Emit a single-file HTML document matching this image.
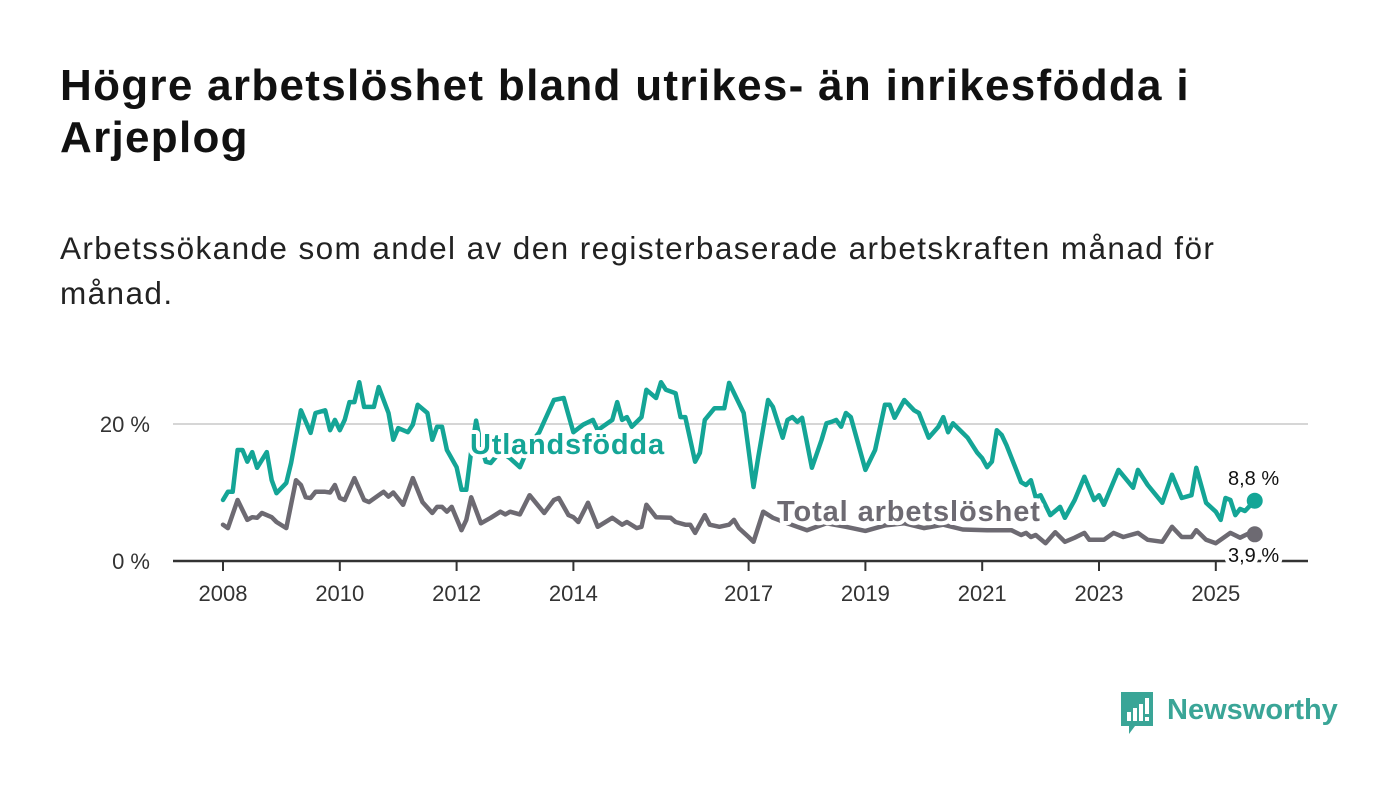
<!DOCTYPE html>
<html lang="sv">
<head>
<meta charset="utf-8">
<style>
  html,body{margin:0;padding:0;background:#fff;}
  body{width:1400px;height:794px;overflow:hidden;position:relative;font-family:"Liberation Sans",sans-serif;color:#111;}
  h1{position:absolute;left:60px;top:60px;margin:0;font-size:44px;line-height:52px;font-weight:bold;width:1190px;color:#111;letter-spacing:1.3px;}
  .sub{position:absolute;left:60px;top:226px;margin:0;font-size:31.5px;line-height:45px;width:1190px;color:#222;letter-spacing:1.4px;}
  svg{position:absolute;left:0;top:0;}
  .logo{position:absolute;left:1119px;top:690px;width:240px;height:46px;}
</style>
</head>
<body>
<h1>Högre arbetslöshet bland utrikes- än inrikesfödda i Arjeplog</h1>
<p class="sub">Arbetssökande som andel av den registerbaserade arbetskraften månad för månad.</p>
<svg id="chart" width="1400" height="794"></svg>
<div class="logo">
  <svg width="240" height="46" style="position:absolute;left:0;top:0">
    <path d="M2 2 H34 V36 H16 L10 44 L10 36 H2 Z" fill="#3aa597"/>
    <rect x="8" y="22" width="4" height="9" fill="#fff"/>
    <rect x="14" y="18" width="4" height="13" fill="#fff"/>
    <rect x="20" y="14" width="4" height="17" fill="#fff"/>
    <rect x="26" y="8" width="4" height="16" fill="#fff"/>
    <rect x="26" y="27" width="4" height="4" fill="#fff"/>
    <text x="48" y="29" font-family="Liberation Sans, sans-serif" font-size="29" font-weight="bold" fill="#3aa597">Newsworthy</text>
  </svg>
</div>
<script>
// months since Jan 2008
const foreignMonths = [0,1,2,3,4,5,6,7,9,10,11,13,14,16,18,19,21,22,23,24,25,26,27,28,29,31,32,34,35,36,38,39,40,42,43,44,45,46,48,49,50,51,52,53,54,55,57,59,61,63,65,68,70,71,72,74,76,77,80,81,82,83,84,86,87,89,90,91,93,94,95,97,98,99,101,103,104,107,109,110,112,113,115,116,117,118,119,121,123,124,125,126,127,128,129,132,134,136,137,138,140,142,143,145,147,148,149,150,152,153,155,156,157,158,159,160,161,163,164,165,166,167,168,170,172,173,175,177,179,180,181,184,187,188,190,193,195,197,199,200,202,204,205,206,207,208,209,210,212];
const foreignValues = [8.9,10.1,10.1,16.2,16.2,14.5,15.9,13.6,15.9,11.8,9.9,11.4,14.3,22,18.7,21.6,22,19.1,20.6,19.1,20.6,23.2,23.2,26.1,22.5,22.5,25.4,21.6,17.7,19.4,18.8,19.9,22.8,21.6,17.7,19.6,19.6,16.2,13.7,10.4,10.4,16,20.5,17,14.5,14.3,16,15,13.7,17,18.8,23.5,23.8,21.3,18.8,19.9,20.6,19.1,20.6,23.2,20.6,21,19.6,21,25,23.8,26.1,25,24.5,21,21,14.5,15.8,20.6,22.3,22.3,26,21.6,10.8,15.2,23.5,22.5,18,20.6,21,20.3,20.9,13.6,17.7,20.1,20.3,20.6,19.6,21.6,21,13.3,16.2,22.8,22.8,20.9,23.5,22,21.6,18,19.6,21,18.8,20.1,18.7,18,15.8,15,13.7,14.5,19.1,18.4,16.9,13.3,11.5,11.1,11.8,9.3,9.6,6.7,7.9,6.3,8.9,12.3,8.9,9.6,8.2,13.3,10.7,13.3,11.1,8.5,12.6,9.2,9.6,13.6,8.5,7.2,6,9.2,8.9,6.7,7.6,7.3,8.8];
const totalMonths = [0,1,3,5,6,7,8,10,11,13,15,16,17,18,19,21,22,23,24,25,27,29,30,32,33,34,35,37,39,41,43,44,45,46,47,49,50,51,53,55,57,58,59,61,63,66,68,69,71,72,73,75,77,80,82,83,85,86,87,89,92,93,95,96,97,99,100,102,104,105,106,108,109,111,113,116,120,124,128,132,136,140,144,148,152,157,162,164,165,166,167,169,171,173,175,177,178,181,183,185,188,190,193,195,197,199,200,202,204,207,209,211,212];
const totalValues = [5.3,4.8,8.9,6,6.4,6.3,7,6.4,5.7,4.8,11.8,11.1,9.3,9.2,10.1,10.1,10,11.1,9.2,8.9,12.1,8.9,8.6,9.6,10.1,9.4,10,8.2,12.1,8.6,7,7.9,7.9,7.2,7.9,4.5,6,9.3,5.5,6.3,7.2,6.8,7.2,6.8,9.6,7,8.9,9.2,6.7,6.4,5.7,8.5,5,6.3,5.3,5.7,4.8,5,8.2,6.4,6.3,5.7,5.3,5.3,4.1,6.7,5.3,5,5.3,6,4.8,3.5,2.8,7.2,6.3,5.5,4.5,5.5,5,4.4,5.2,5.5,4.8,5.3,4.6,4.5,4.5,3.8,4.1,3.5,3.8,2.6,4.2,2.8,3.4,4.1,3.1,3.1,4.1,3.5,4.1,3.1,2.8,5,3.5,3.5,4.5,3.1,2.6,4.1,3.4,4.1,3.9];
const yTicks = [0,20];
const yTickLabels = ["0 %","20 %"];
const xTickYears = [2008,2010,2012,2014,2017,2019,2021,2023,2025];

const NS = "http://www.w3.org/2000/svg";
const svg = document.getElementById('chart');
const X0 = 223, PX_PER_MONTH = 58.4/12, Y0 = 561, PX_PER_PCT = 6.85;
function xScale(m){ return X0 + m*PX_PER_MONTH; }
function yScale(v){ return Y0 - v*PX_PER_PCT; }
function mk(tag, attrs){ const e=document.createElementNS(NS,tag); for(const k in attrs) e.setAttribute(k,attrs[k]); svg.appendChild(e); return e; }

yTicks.forEach((t,i)=>{
  if(t!==0){
    const g = mk('line',{x1:173,x2:1308,y1:yScale(t),y2:yScale(t),stroke:'#d6d6d6','stroke-width':2});
    
    
  }
  const lb = mk('text',{x:150,y:yScale(t)+8,'text-anchor':'end','font-size':22,fill:'#333'});
  lb.textContent = yTickLabels[i];
  
  
});

function drawLine(months, values, color, name){
  const d = months.map((m,i)=>(i?'L':'M')+xScale(m).toFixed(1)+' '+yScale(values[i]).toFixed(1)).join(' ');
  const p = mk('path',{d:d,fill:'none',stroke:color,'stroke-width':4.5,'stroke-linejoin':'round','stroke-linecap':'round'});
  
  
  const n = months.length-1;
  const c = mk('circle',{cx:xScale(months[n]),cy:yScale(values[n]),r:8,fill:color});
  
  
}
drawLine(totalMonths,totalValues,'#6d6a72','total-line');
drawLine(foreignMonths,foreignValues,'#14a596','foreign-born-line');

const ax = mk('line',{x1:173,x2:1308,y1:Y0,y2:Y0,stroke:'#333','stroke-width':2.5});


xTickYears.forEach(yr=>{
  const x = xScale((yr-2008)*12);
  const t = mk('line',{x1:x,x2:x,y1:Y0,y2:Y0+10,stroke:'#333','stroke-width':2});
  
  
  const l = mk('text',{x:x,y:601,'text-anchor':'middle','font-size':22,fill:'#333'});
  l.textContent = yr;
  
  
});

function label(txt,x,y,color,size,weight,ls,name){
  const t = mk('text',{x:x,y:y,'font-size':size,'font-weight':weight,'letter-spacing':ls,fill:color,stroke:'#fff','stroke-width':8,'stroke-linejoin':'round','paint-order':'stroke'});
  t.textContent = txt;
  
  
}
label('Utlandsfödda',470,454,'#14a596',29,'bold',0.8,'foreign-born-label');
label('Total arbetslöshet',777,521,'#6d6a72',29,'bold',0.9,'total-label');
label('8,8 %',1228,485,'#111',20,'normal',0,'foreign-born-value');
label('3,9 %',1228,562,'#111',20,'normal',0,'total-value');
</script>
</body>
</html>
